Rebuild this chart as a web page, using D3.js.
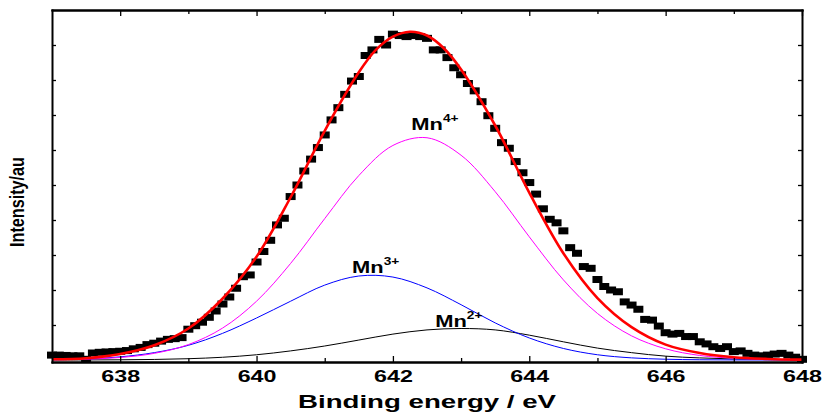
<!DOCTYPE html>
<html>
<head>
<meta charset="utf-8">
<script src="https://cdn.jsdelivr.net/npm/d3@7/dist/d3.min.js"></script>
<style>
  body { margin: 0; background: #fff; }
  svg { display: block; }
  text { font-family: "Liberation Sans", Arial, sans-serif; font-weight: bold; fill: #000; }
</style>
</head>
<body>
<svg id="chart" width="823" height="412"></svg>
<script>
// measured points (binding energy, eV / intensity, au)
const dataEnergy = [
  637.0, 637.1, 637.2, 637.3, 637.4, 637.5, 637.6, 637.7, 637.8, 637.9,
  638.0, 638.1, 638.2, 638.3, 638.4, 638.5, 638.6, 638.7, 638.8, 638.9,
  639.0, 639.1, 639.2, 639.3, 639.4, 639.5, 639.6, 639.7, 639.8, 639.9,
  640.0, 640.1, 640.2, 640.3, 640.4, 640.5, 640.6, 640.7, 640.8, 640.9,
  641.0, 641.1, 641.2, 641.3, 641.4, 641.5, 641.6, 641.7, 641.8, 641.9,
  642.0, 642.1, 642.2, 642.3, 642.4, 642.5, 642.6, 642.7, 642.8, 642.9,
  643.0, 643.1, 643.2, 643.3, 643.4, 643.5, 643.6, 643.7, 643.8, 643.9,
  644.0, 644.1, 644.2, 644.3, 644.4, 644.5, 644.6, 644.7, 644.8, 644.9,
  645.0, 645.1, 645.2, 645.3, 645.4, 645.5, 645.6, 645.7, 645.8, 645.9,
  646.0, 646.1, 646.2, 646.3, 646.4, 646.5, 646.6, 646.7, 646.8, 646.9,
  647.0, 647.1, 647.2, 647.3, 647.4, 647.5, 647.6, 647.7, 647.8, 647.9,
  648.0
];
const dataIntensity = [
  0.14, 0.14, 0.13, 0.12, 0.12, 0.02, 0.20, 0.22, 0.23, 0.24,
  0.25, 0.27, 0.32, 0.36, 0.44, 0.48, 0.54, 0.59, 0.61, 0.64,
  0.88, 0.98, 1.08, 1.22, 1.40, 1.60, 1.80, 2.05, 2.38, 2.43,
  2.80, 3.10, 3.42, 3.86, 4.05, 4.67, 5.00, 5.40, 5.74, 6.07,
  6.43, 6.86, 7.21, 7.59, 7.97, 8.10, 8.70, 8.86, 9.16, 9.00,
  9.31, 9.27, 9.24, 9.27, 9.24, 9.19, 8.86, 8.86, 8.64, 8.35,
  8.15, 7.90, 7.69, 7.38, 6.98, 6.62, 6.21, 6.05, 5.67, 5.35,
  5.07, 4.74, 4.32, 4.02, 3.92, 3.69, 3.21, 3.05, 2.67, 2.62,
  2.30, 2.10, 2.00, 1.95, 1.66, 1.57, 1.45, 1.16, 1.14, 0.97,
  0.78, 0.74, 0.76, 0.67, 0.67, 0.52, 0.46, 0.38, 0.33, 0.38,
  0.24, 0.26, 0.19, 0.14, 0.12, 0.14, 0.17, 0.19, 0.14, 0.08,
  0.02
];

// fitted envelope (red)
const envelopeEnergy = [637.0, 637.5, 638.0, 638.5, 639.0, 639.5, 640.0, 640.5, 641.0, 641.5, 641.75, 642.0, 642.25,
  642.5, 642.75, 643.0, 643.5, 644.0, 644.5, 645.0, 645.5, 646.0, 646.5, 647.0, 647.5, 648.0];
const envelopeIntensity = [0.02, 0.05, 0.17, 0.42, 0.90, 1.75, 2.95, 4.65, 6.55, 8.22, 8.86, 9.24, 9.38,
  9.27, 8.90, 8.30, 6.70, 4.78, 3.05, 1.77, 0.94, 0.44, 0.20, 0.08, 0.03, 0.01];

// fitted components
const componentEnergy = [637.0, 637.5, 638.0, 638.5, 639.0, 639.5, 640.0, 640.5, 641.0, 641.5, 642.0, 642.5,
  643.0, 643.5, 644.0, 644.5, 645.0, 645.5, 646.0, 646.5, 647.0, 647.5, 648.0];
const mn4Intensity = [0.007, 0.024, 0.072, 0.19, 0.44, 0.91, 1.68, 2.76, 4.04, 5.27, 6.13, 6.35,
  5.85, 4.81, 3.52, 2.29, 1.33, 0.69, 0.32, 0.13, 0.05, 0.015, 0.004];
const mn3Intensity = [0.009, 0.027, 0.09, 0.21, 0.42, 0.76, 1.20, 1.68, 2.14, 2.40, 2.37, 2.06,
  1.58, 1.06, 0.63, 0.33, 0.15, 0.061, 0.022, 0.007, 0.002, 0, 0];
const mn2Intensity = [0.001, 0.002, 0.006, 0.016, 0.037, 0.078, 0.15, 0.26, 0.40, 0.57, 0.74, 0.86,
  0.90, 0.86, 0.71, 0.52, 0.34, 0.21, 0.11, 0.06, 0.03, 0.012, 0.005];

const majorTicks = [638, 640, 642, 644, 646, 648];
const minorTicks = [639, 641, 643, 645, 647];
const yTicks = [1, 2, 3, 4, 5, 6, 7, 8, 9];

const peakLabels = [
  { name: 'Mn', sup: '4+', e: 642.27, v: 6.57 },
  { name: 'Mn', sup: '3+', e: 641.40, v: 2.49 },
  { name: 'Mn', sup: '2+', e: 642.62, v: 0.94 }
];

const svg = d3.select('#chart');
const x = d3.scaleLinear().domain([637, 648]).range([52, 802]);
const y = d3.scaleLinear().domain([-0.057, 10]).range([362, 10]);
const stretch = 1.37;

// data squares
svg.append('g').selectAll('rect')
  .data(dataEnergy.map((e, i) => [e, dataIntensity[i]]))
  .enter().append('rect')
  .attr('x', (d) => x(d[0]) - 5)
  .attr('y', (d) => y(d[1]) - 3.5)
  .attr('width', 10)
  .attr('height', 7)
  .attr('fill', '#000');

const line = d3.line().x((d) => x(d[0])).y((d) => y(d[1])).curve(d3.curveCatmullRom.alpha(0.5));
const zip = (xs, ys) => xs.map((e, i) => [e, ys[i]]);

[
  { values: mn2Intensity, color: '#000000', w: 1 },
  { values: mn3Intensity, color: '#0000ff', w: 1 },
  { values: mn4Intensity, color: '#ff00ff', w: 1 }
].forEach((s) => {
  svg.append('path').attr('d', line(zip(componentEnergy, s.values)))
    .attr('fill', 'none').attr('stroke', s.color).attr('stroke-width', s.w);
});
svg.append('path').attr('d', line(zip(envelopeEnergy, envelopeIntensity)))
  .attr('fill', 'none').attr('stroke', '#ff0000').attr('stroke-width', 2.6);

// axes: closed frame, ticks pointing inward
function styleAxis(g) {
  g.attr('font-family', null).attr('font-size', null);
  g.select('.domain').attr('stroke-width', 2).attr('stroke-linecap', 'square');
  g.selectAll('.tick line').attr('stroke-width', 1.3);
}
svg.append('g').attr('transform', 'translate(0,362)')
  .call(d3.axisBottom(x).tickValues(majorTicks).tickSizeInner(-6).tickSizeOuter(0).tickPadding(8).tickFormat(d3.format('d')))
  .call(styleAxis)
  .call((g) => g.selectAll('.tick text').style('font-size', '17px').attr('transform', 'scale(' + stretch + ',1)'));
svg.append('g').attr('transform', 'translate(0,362)')
  .call(d3.axisBottom(x).tickValues(minorTicks).tickSizeInner(-4).tickSizeOuter(0).tickFormat(''))
  .call(styleAxis);
svg.append('g').attr('transform', 'translate(0,10)')
  .call(d3.axisTop(x).tickValues(majorTicks).tickSizeInner(-6).tickSizeOuter(0).tickFormat(''))
  .call(styleAxis);
svg.append('g').attr('transform', 'translate(0,10)')
  .call(d3.axisTop(x).tickValues(minorTicks).tickSizeInner(-4).tickSizeOuter(0).tickFormat(''))
  .call(styleAxis);
svg.append('g').attr('transform', 'translate(52,0)')
  .call(d3.axisLeft(y).tickValues(yTicks).tickSizeInner(-4).tickSizeOuter(0).tickFormat(''))
  .call(styleAxis);
svg.append('g').attr('transform', 'translate(802,0)')
  .call(d3.axisRight(y).tickValues(yTicks).tickSizeInner(-4).tickSizeOuter(0).tickFormat(''))
  .call(styleAxis);

// axis titles
svg.append('text')
  .attr('x', 427).attr('y', 408)
  .attr('text-anchor', 'middle')
  .attr('textLength', 258).attr('lengthAdjust', 'spacingAndGlyphs')
  .style('font-size', '18px')
  .text('Binding energy / eV');
svg.append('text')
  .attr('transform', 'translate(24,202) scale(1.35,1) rotate(-90)')
  .attr('text-anchor', 'middle')
  .attr('textLength', 90).attr('lengthAdjust', 'spacingAndGlyphs')
  .style('font-size', '15px')
  .text('Intensity/au');

// peak labels
peakLabels.forEach((p) => {
  const t = svg.append('text')
    .attr('transform', 'translate(' + x(p.e) + ',' + y(p.v) + ') scale(' + stretch + ',1)')
    .style('font-size', '16px');
  t.append('tspan').text(p.name);
  t.append('tspan').attr('dy', -8).style('font-size', '10px').text(p.sup);
});
</script>
</body>
</html>
